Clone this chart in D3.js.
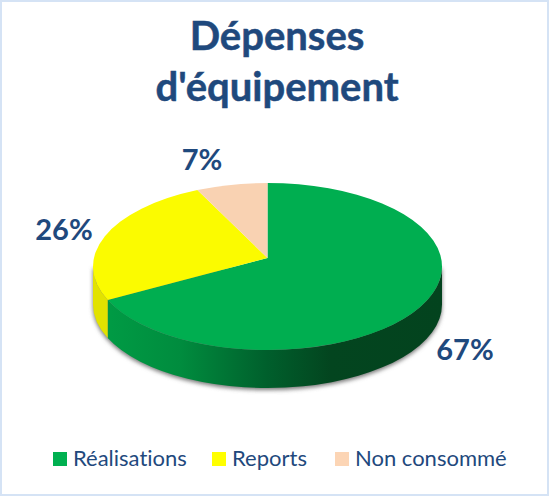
<!DOCTYPE html>
<html>
<head>
<meta charset="utf-8">
<style>
html, body { margin: 0; padding: 0; background: #fff; }
svg { display: block; }
text { font-family: Lato, "Noto Sans", sans-serif; fill: #1f497d; font-variant-ligatures: none; }
</style>
<script src="https://cdn.jsdelivr.net/npm/d3@7"></script>
</head>
<body>
<div id="chart"></div>
<script>
const categories = ['Réalisations', 'Reports', 'Non consommé'];
const values = [67, 25.7, 7.3];
const titleLines = ['Dépenses', "d'équipement"];
const colors = ['#00ae50', '#fbfb00', '#f9d2b2'];
const legendColors = ['#00b050', '#ffff00', '#fcd5b5'];

const width = 550, height = 497;
const svg = d3.select('#chart').append('svg').attr('width', width).attr('height', height);

// ellipse of the top face, apex sits a bit above its centre (perspective)
const cx = 267.5, cy = 266.5, rx = 174.5, ry = 83.5, apexY = 258, depth = 38;
const apexOff = (apexY - cy) / ry;

// slice angle -> point on the ellipse, ray cast from the apex
function rim(angle) {
    const dx = Math.sin(angle), dy = -Math.cos(angle);
    const b = apexOff * dy;
    const t = -b + Math.sqrt(b * b - apexOff * apexOff + 1);
    const ux = dx * t, uy = apexOff + dy * t;
    return { x: cx + ux * rx, y: cy + uy * ry, param: Math.atan2(ux, -uy) };
}

const defs = svg.append('defs');
defs.append('filter').attr('id', 'soft')
    .attr('x', '-10%').attr('y', '-10%').attr('width', '120%').attr('height', '120%')
    .append('feGaussianBlur').attr('stdDeviation', 2);
const wallGrad = defs.append('linearGradient').attr('id', 'wallGreen')
    .attr('gradientUnits', 'userSpaceOnUse')
    .attr('x1', cx - rx).attr('x2', cx + rx).attr('y1', 0).attr('y2', 0);
[[0.05, '#009a44'], [0.25, '#008c3e'], [0.5, '#005f2c'], [0.68, '#03451f'], [1, '#03431e']].forEach(s => {
    wallGrad.append('stop').attr('offset', s[0]).attr('stop-color', s[1]);
});

// frame
svg.append('rect').attr('x', 1).attr('y', 1).attr('width', 547).attr('height', 494)
    .attr('fill', '#fff').attr('stroke', '#d5e3f5').attr('stroke-width', 2);

const arcs = d3.pie().sort(null).value(d => d)(values);
const left = { x: cx - rx, y: cy }, right = { x: cx + rx, y: cy };

// soft shadow under the wall
svg.append('path')
    .attr('d', `M${left.x},${left.y + depth}A${rx},${ry} 0 0 0 ${right.x},${right.y + depth}L${right.x},${right.y}L${left.x},${left.y}Z`)
    .attr('transform', 'translate(0,2)')
    .attr('fill', '#777')
    .attr('filter', 'url(#soft)');

// walls: green runs front to right edge, yellow left edge to the boundary
const bound = rim(arcs[0].endAngle);
function wall(a, b, fill) {
    svg.append('path')
        .attr('d', `M${a.x},${a.y}L${a.x},${a.y + depth}A${rx},${ry} 0 0 0 ${b.x},${b.y + depth}L${b.x},${b.y}A${rx},${ry} 0 0 1 ${a.x},${a.y}Z`)
        .attr('fill', fill);
}
wall(bound, right, 'url(#wallGreen)');
wall(left, bound, '#e2e200');

// top faces
arcs.forEach((d, i) => {
    const p0 = rim(d.startAngle), p1 = rim(d.endAngle);
    const sweep = d.endAngle >= 2 * Math.PI - 1e-6 ? 2 * Math.PI : (p1.param + 2 * Math.PI) % (2 * Math.PI);
    const start = (p0.param + 2 * Math.PI) % (2 * Math.PI);
    const large = sweep - start > Math.PI ? 1 : 0;
    svg.append('path')
        .attr('d', `M${cx},${apexY}L${p0.x},${p0.y}A${rx},${ry} 0 ${large} 1 ${p1.x},${p1.y}Z`)
        .attr('fill', colors[i]);
});

// title
svg.selectAll('.title').data(titleLines).enter().append('text')
    .attr('class', 'title')
    .attr('x', 277)
    .attr('y', (d, i) => 50 + i * 51)
    .attr('text-anchor', 'middle')
    .attr('font-size', 40)
    .attr('font-weight', 700)
    .attr('stroke', '#1f497d')
    .attr('stroke-width', 0.5)
    .text(d => d);

// percent labels
const labelPos = [[465, 360], [64, 240], [202, 170]];
svg.selectAll('.pct').data(values).enter().append('text')
    .attr('class', 'pct')
    .attr('x', (d, i) => labelPos[i][0])
    .attr('y', (d, i) => labelPos[i][1])
    .attr('text-anchor', 'middle')
    .attr('font-size', 29)
    .attr('font-weight', 700)
    .text(d => Math.round(d) + '%');

// legend
const legendX = [53, 212, 335];
const legend = svg.selectAll('.leg').data(categories).enter().append('g')
    .attr('class', 'leg')
    .attr('transform', (d, i) => `translate(${legendX[i]},452)`);
legend.append('rect').attr('width', 14).attr('height', 14).attr('fill', (d, i) => legendColors[i]);
legend.append('text').attr('x', 20).attr('y', 13.5).attr('font-size', 22).text(d => d);
</script>
</body>
</html>
